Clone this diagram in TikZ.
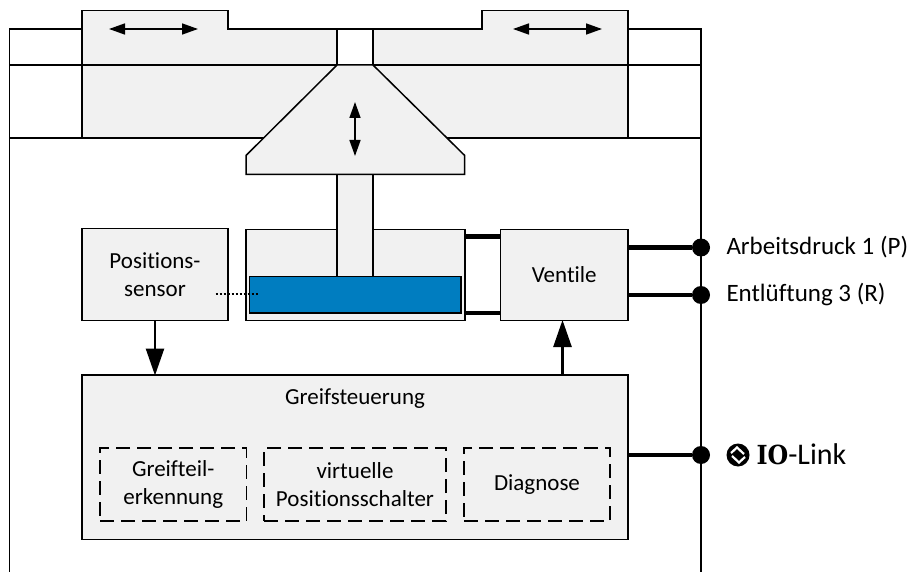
\documentclass[tikz,border=0pt]{standalone}
\usepackage{fontspec}
\setmainfont[Ligatures=NoCommon]{Carlito}
\newfontfamily\iofont{DejaVu Serif}
\usetikzlibrary{arrows.meta}
\definecolor{boxgrey}{HTML}{F1F1F1}
\definecolor{pistonblue}{HTML}{007DC0}
\tikzset{
  line/.style={draw=black,line width=1.5pt,line join=miter},
  part/.style={line,fill=boxgrey},
  blockbox/.style={part,rectangle,inner sep=0pt,outer sep=0pt,align=center,font=\fontsize{23}{28}\selectfont},
  funcbox/.style={rectangle,draw=black,line width=1.3pt,dash pattern=on 14pt off 7pt,inner sep=0pt,outer sep=0pt,align=center,font=\fontsize{23}{28}\selectfont},
  txt/.style={inner sep=0pt,outer sep=0pt,font=\fontsize{23}{28}\selectfont},
  labeltxt/.style={inner sep=0pt,outer sep=0pt,font=\fontsize{25}{30}\selectfont},
  port/.style={circle,fill=black,minimum size=18pt,inner sep=0pt,outer sep=0pt},
  pipe/.style={draw=black,line width=4.4pt},
  motion/.style={draw=black,line width=1.5pt,{Triangle[length=16pt,width=11pt]}-{Triangle[length=16pt,width=11pt]}},
  signal/.style={draw=black,line width=2.6pt,-{Triangle[length=27pt,width=18pt]},shorten >=-0.5pt},
}
\begin{document}
\begin{tikzpicture}[x=1pt,y=-1pt]
\useasboundingbox (0,0) rectangle (913,572);
% housing
\draw[line] (9.5,572) -- (9.5,29) -- (82,29);
\draw[line] (628,29) -- (701,29) -- (701,572);
% jaws and body
\draw[part] (82,65) -- (82,10.5) -- (228,10.5) -- (228,29) -- (337,29) -- (337,65);
\draw[part] (373,65) -- (373,29) -- (482,29) -- (482,10.5) -- (628,10.5) -- (628,65);
\draw[line] (337,29) -- (373,29);
\draw[part] (82,65) rectangle (628,138);
\draw[line] (9.5,65) -- (82,65) (628,65) -- (701,65);
\draw[line] (9.5,138) -- (82,138) (628,138) -- (701,138);
% cylinder
\node[blockbox,minimum width=219pt,minimum height=91pt] (cyl) at (355.5,275) {};
% stem and wedge
\draw[part] (337,174) rectangle (373,277);
\draw[part] (337,65) -- (373,65) -- (464.7,155.5) -- (464.7,174.5) -- (246,174.5) -- (246,155.5) -- cycle;
% piston
\node[rectangle,draw=black,line width=1.5pt,fill=pistonblue,minimum width=211.5pt,minimum height=36.5pt,inner sep=0pt,outer sep=0pt] (piston) at (355.25,294.75) {};
% blocks
\node[blockbox,minimum width=146pt,minimum height=92pt] (sensor) at (155,274.5) {Positions-\\sensor};
\node[blockbox,minimum width=127.5pt,minimum height=91pt] (ventile) at (564.25,275) {Ventile};
\node[blockbox,minimum width=546pt,minimum height=164.5pt] (ctrl) at (355,457.25) {};
\node[txt] (ctrltitle) at (355,399) {Greifsteuerung};
\node[funcbox,minimum width=146.5pt,minimum height=73pt] (f1) at (173.25,484.5) {Greifteil-\\erkennung};
\node[funcbox,minimum width=182pt,minimum height=73pt] (f2) at (355,484.5) {virtuelle\\Positionsschalter};
\node[funcbox,minimum width=146pt,minimum height=73pt] (f3) at (537,484.5) {Diagnose};
% dotted sensing link
\coordinate (dotA) at (215.5,294);
\coordinate (dotB) at (258,294);
\draw[black,line width=1.3pt,dash pattern=on 2.5pt off 1.5pt] (dotA) -- (dotB);
% ports
\node[port] (p1) at (701,247.5) {};
\node[port] (p2) at (701,295) {};
\node[port] (p3) at (701,455) {};
\draw[pipe] (ventile.east |- p1) -- (p1);
\draw[pipe] (ventile.east |- p2) -- (p2);
\draw[pipe] (ctrl.east |- p3) -- (p3);
\coordinate (y1) at (0,236.5);
\coordinate (y2) at (0,313);
\draw[pipe] (cyl.east |- y1) -- (ventile.west |- y1);
\draw[pipe] (cyl.east |- y2) -- (ventile.west |- y2);
% signals
\draw[signal] (sensor.south) -- (ctrl.north -| sensor.south);
\coordinate (upx) at (562.5,0);
\draw[signal] (ctrl.north -| upx) -- (ventile.south -| upx);
% motion arrows
\coordinate (m1a) at (109,29); \coordinate (m1b) at (198,29);
\coordinate (m2a) at (513,29); \coordinate (m2b) at (602,29);
\coordinate (m3a) at (355,102); \coordinate (m3b) at (355,156);
\draw[motion] (m1a) -- (m1b);
\draw[motion] (m2a) -- (m2b);
\draw[motion] (m3a) -- (m3b);
% labels
\node[labeltxt,anchor=west] (lab1) at (726.5,247.5) {Arbeitsdruck 1 (P)};
\node[labeltxt,anchor=west] (lab2) at (726.5,295) {Entlüftung 3 (R)};
% IO-Link
\fill[black] (738,455) circle (11.5pt);
\draw[white,line width=2.2pt,line join=miter] (731,453) -- (737,447.5) -- (744,454);
\draw[white,line width=2.2pt,line join=miter] (732,456) -- (739,462.5) -- (745,457);
\node[anchor=base west,inner sep=0pt,outer sep=0pt] (iolink) at (756.5,464) {\iofont\bfseries\fontsize{25}{25}\selectfont\scalebox{0.95}[1.05]{IO}\normalfont\fontsize{30}{30}\selectfont -Link};
\end{tikzpicture}
\end{document}
